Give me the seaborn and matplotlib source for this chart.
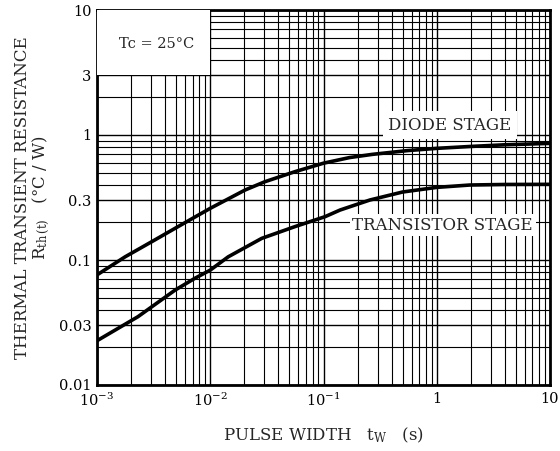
import matplotlib
matplotlib.use("Agg")
import matplotlib.pyplot as plt
import matplotlib.ticker as mticker
from matplotlib.patches import Rectangle
import numpy as np
import pandas as pd
import seaborn as sns

# Data
diode_t = [1e-3, 1.77e-3, 3.04e-3, 5.2e-3, 1e-2, 2.03e-2, 3.04e-2, 5.6e-2, 0.1,
           0.17, 0.27, 0.55, 1.0, 2.0, 4.0, 10]
diode_r = [0.076, 0.106, 0.140, 0.185, 0.259, 0.363, 0.423, 0.509, 0.595,
           0.66, 0.70, 0.75, 0.782, 0.81, 0.835, 0.857]
trans_t = [1e-3, 2.3e-3, 4.9e-3, 7.3e-3, 1e-2, 1.44e-2, 2.85e-2, 5.6e-2, 0.103,
           0.14, 0.257, 0.5, 1.0, 1.96, 4.0, 10]
trans_r = [0.0226, 0.0352, 0.0575, 0.0713, 0.083, 0.106, 0.149, 0.185, 0.222,
           0.251, 0.302, 0.35, 0.381, 0.398, 0.402, 0.403]

x_ticks = [1e-3, 1e-2, 1e-1, 1, 10]
x_labels = [r"$10^{-3}$", r"$10^{-2}$", r"$10^{-1}$", "1", "10"]
y_ticks = [0.01, 0.03, 0.1, 0.3, 1, 3, 10]
y_labels = ["0.01", "0.03", "0.1", "0.3", "1", "3", "10"]

sns.set_style("white")
plt.rcParams["font.family"] = ["DejaVu Serif"]
plt.rcParams["mathtext.fontset"] = "dejavuserif"

df = pd.concat([
    pd.DataFrame({"t": diode_t, "r": diode_r, "stage": "DIODE STAGE"}),
    pd.DataFrame({"t": trans_t, "r": trans_r, "stage": "TRANSISTOR STAGE"}),
])

fig = plt.figure(figsize=(5.6, 4.51), dpi=100)
ax = fig.add_axes([97 / 560, 66 / 451, 453 / 560, 375 / 451])

sns.lineplot(data=df, x="t", y="r", units="stage", estimator=None,
             color="black", linewidth=2.6, ax=ax, zorder=5, legend=False)

ax.set_xscale("log")
ax.set_yscale("log")
ax.set_xlim(1e-3, 10)
ax.set_ylim(0.01, 10)

ax.xaxis.set_major_locator(mticker.FixedLocator(x_ticks))
ax.xaxis.set_major_formatter(mticker.FixedFormatter(x_labels))
ax.yaxis.set_major_locator(mticker.FixedLocator(y_ticks))
ax.yaxis.set_major_formatter(mticker.FixedFormatter(y_labels))
ax.xaxis.set_minor_locator(mticker.LogLocator(base=10, subs=np.arange(2, 10)))
ax.yaxis.set_minor_locator(mticker.LogLocator(base=10, subs=np.arange(2, 10)))
ax.xaxis.set_minor_formatter(mticker.NullFormatter())
ax.yaxis.set_minor_formatter(mticker.NullFormatter())

ax.grid(True, which="major", color="black", linewidth=1.0, zorder=1)
ax.grid(True, which="minor", color="black", linewidth=0.8, zorder=1)
ax.tick_params(which="both", length=0, labelsize=10.5, colors="black")
ax.tick_params(axis="y", pad=4)
ax.tick_params(axis="x", pad=5)
for s in ax.spines.values():
    s.set_visible(True)
    s.set_color("black")
    s.set_linewidth(2.0)

# white box for Tc annotation
ax.add_patch(Rectangle((1e-3, 3), 1e-2 - 1e-3, 7, facecolor="white",
                       edgecolor="none", zorder=3))
ax.text(1.55e-3, 5.3, "Tc = 25°C", fontsize=10.5, ha="left", va="center", zorder=6)

ax.text(1.31, 1.2, "DIODE STAGE", fontsize=12, ha="center", va="center", zorder=6,
        bbox=dict(facecolor="white", edgecolor="none", pad=4))
ax.text(1.13, 0.19, "TRANSISTOR STAGE", fontsize=12, ha="center", va="center", zorder=6,
        bbox=dict(facecolor="white", edgecolor="none", pad=2))

ax.set_xlabel(r"PULSE WIDTH   t$_{\rm W}$   (s)", fontsize=12, labelpad=12)
ax.set_ylabel("THERMAL TRANSIENT RESISTANCE\n" + r"R$_{\rm th\,(t)}$   (°C / W)",
              fontsize=12, labelpad=5, linespacing=0.95)

fig.savefig("out.png", dpi=100, facecolor="white")
